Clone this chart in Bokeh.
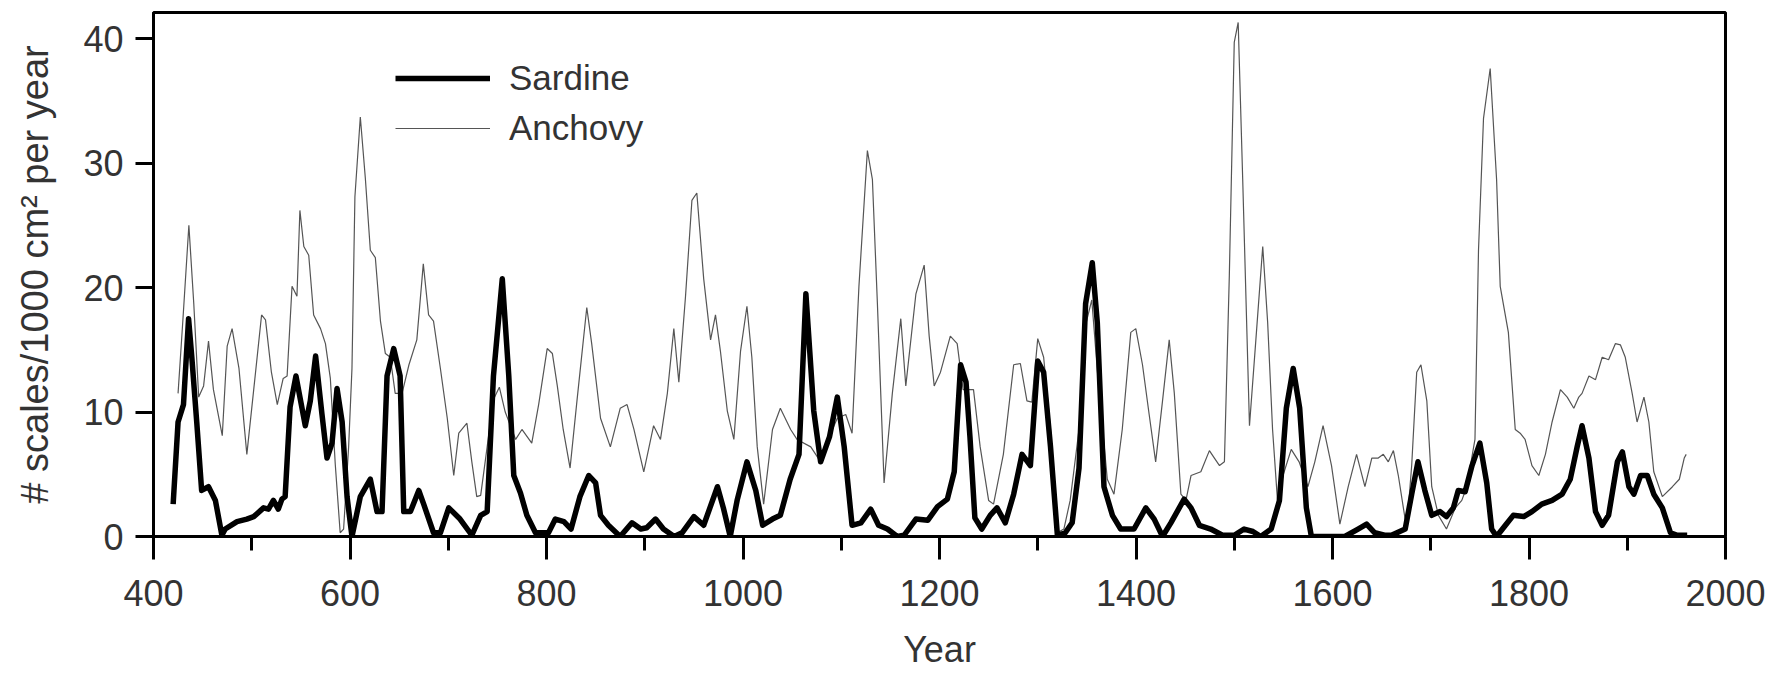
from bokeh.plotting import figure
from bokeh.models import Range1d, Legend, LegendItem, FixedTicker, ColumnDataSource
from bokeh.embed import file_html
from bokeh.resources import INLINE

# ---- data ----
sardine_year = [420, 425, 430.5, 435.7, 439, 444, 449, 456, 463, 469.6, 473, 485, 495, 502, 512, 517, 522, 527,
                530.7, 534, 539, 545, 554.5, 559.6, 565, 571.5, 576.6, 581.7, 586.8, 592, 597, 602, 606, 610.5,
                620.7, 627.5, 632.6, 637.7, 644.5, 651, 654.7, 661.5, 670, 675, 685, 692, 700.5, 712, 724, 733,
                739.6, 746, 755, 761.6, 766.7, 773.5, 780, 788.8, 802, 809, 817.7, 825, 834, 843, 850, 855, 863,
                875, 887, 896, 902, 911, 919, 930, 938, 950, 960, 974, 980, 987, 994, 1004, 1013, 1020, 1030,
                1038, 1048, 1057, 1064, 1072, 1079, 1088, 1096, 1103, 1111, 1120, 1130, 1138, 1147, 1157, 1164,
                1176, 1188, 1198, 1208, 1215, 1221.5, 1227, 1231, 1236, 1243, 1251.6, 1258.5, 1267, 1275.5, 1284,
                1292.5, 1300, 1306, 1313, 1320, 1328, 1335, 1342, 1348.7, 1355.5, 1360.6, 1367.4, 1376, 1384.4,
                1398, 1410, 1418.5, 1427, 1435.5, 1449, 1456, 1464.5, 1476, 1488, 1500, 1510, 1519, 1527, 1537.6,
                1546, 1553, 1560, 1566.6, 1573.4, 1578.5, 1612.6, 1626, 1634.7, 1643, 1653, 1660, 1674, 1680.6,
                1687, 1694, 1701, 1709.5, 1716, 1723, 1728, 1735, 1742, 1750, 1757, 1762, 1767, 1776, 1784,
                1794.6, 1803, 1813, 1823.5, 1833.7, 1842, 1849, 1854, 1861, 1867.7, 1874.5, 1881, 1890, 1895,
                1901.7, 1906.8, 1913.6, 1920.4, 1927, 1935.7, 1944, 1951, 1961]
sardine_val = [2.6, 9.2, 10.6, 17.5, 14.4, 9.2, 3.7, 4.0, 2.9, 0.1, 0.6, 1.2, 1.4, 1.6, 2.3, 2.2, 2.9, 2.2,
               3.0, 3.2, 10.4, 12.9, 8.9, 10.9, 14.5, 9.8, 6.3, 7.5, 11.9, 9.2, 3.2, 0.0, 1.5, 3.2,
               4.6, 2.0, 2.0, 12.9, 15.1, 12.9, 2.0, 2.0, 3.7, 2.6, 0.3, 0.3, 2.3, 1.4, 0.1, 1.7,
               2.0, 12.9, 20.7, 12.9, 4.9, 3.5, 1.7, 0.3, 0.3, 1.4, 1.2, 0.6, 3.2, 4.9, 4.3, 1.7, 0.9,
               0.0, 1.1, 0.6, 0.7, 1.4, 0.6, 0.0, 0.3, 1.6, 0.9, 4.0, 2.3, 0.0, 2.9, 6.0, 3.7, 0.9, 1.4,
               1.7, 4.6, 6.6, 19.5, 10.1, 6.0, 8.0, 11.2, 7.2, 0.9, 1.1, 2.2, 0.9, 0.6, 0.0, 0.1,
               1.4, 1.3, 2.4, 3.0, 5.2, 13.8, 12.4, 8.0, 1.5, 0.6, 1.7, 2.3, 1.1, 3.4, 6.6,
               5.7, 14.1, 13.2, 7.2, 0.1, 0.3, 1.1, 5.5, 18.7, 22.0, 17.2, 4.0, 1.7, 0.6,
               0.6, 2.3, 1.4, 0.0, 1.1, 3.0, 2.3, 0.9, 0.6, 0.1, 0.1, 0.6, 0.4, 0.0, 0.6,
               2.9, 10.3, 13.5, 10.3, 2.3, 0.0, 0.0, 0.6, 1.0, 0.3, 0.1, 0.1, 0.6, 3.4,
               6.0, 3.7, 1.7, 2.0, 1.6, 2.3, 3.7, 3.6, 5.7, 7.5, 4.3, 0.6, 0.0, 0.9, 1.7,
               1.6, 2.0, 2.6, 2.9, 3.4, 4.6, 7.2, 8.9, 6.3, 2.0, 0.9, 1.7, 6.0, 6.8,
               4.0, 3.4, 4.9, 4.9, 3.4, 2.3, 0.3, 0.1, 0.1]

anchovy_year = [425, 430, 436, 441, 446, 451, 456, 461, 470, 475, 480, 487, 495, 502, 510, 514, 520, 526, 532,
                536, 541, 546, 549, 553, 558, 563, 570, 575, 580, 585, 590, 593.5, 598.6, 602, 605, 610.5,
                615.6, 620.7, 625.8, 631, 636, 641, 646, 653, 660, 668, 674.6, 680, 685, 692, 699, 705.6,
                710.7, 719, 724, 729, 733, 739.6, 746, 752, 758, 768.6, 775, 785, 792, 800.7, 806, 811, 817,
                824, 831, 841, 846, 855, 865, 875, 882, 889, 899, 909, 916, 923, 929.6, 934.7, 941.5, 948, 953,
                960, 967, 972, 977, 984, 990.7, 997.5, 1004, 1009, 1014.5, 1021, 1030, 1038, 1048.5, 1055,
                1069, 1079, 1087.6, 1096, 1104.6, 1111, 1118, 1126.6, 1131.7, 1136.8, 1143.6, 1152, 1160.6,
                1165.7, 1176, 1184.4, 1189.5, 1194.6, 1201, 1211, 1218, 1224, 1234.6, 1241.4, 1250, 1255,
                1265, 1275.5, 1282.3, 1289, 1294, 1300, 1306, 1313, 1320, 1326.6, 1333, 1342, 1348.7, 1355,
                1362, 1370.8, 1377.6, 1386, 1394.7, 1399.8, 1406.6, 1413.4, 1420, 1427, 1433.8, 1439, 1445.7,
                1450.8, 1456, 1466, 1474.7, 1479.8, 1485, 1490, 1495, 1500, 1504, 1508.6, 1515.5, 1522, 1529,
                1534, 1539, 1544, 1550, 1558, 1566, 1575, 1582, 1590.4, 1599, 1607.5, 1616, 1624.5, 1633,
                1640, 1646.6, 1651.7, 1656.8, 1662, 1667, 1675.5, 1680.6, 1685.7, 1690, 1696, 1701, 1707.8,
                1716, 1725, 1731.6, 1736.7, 1745, 1748.6, 1753.7, 1760.5, 1767, 1770.7, 1779, 1786, 1791,
                1796, 1803, 1810, 1816.7, 1823.5, 1832, 1838.9, 1845.6, 1850.7, 1854, 1861, 1867.7, 1874.5,
                1881, 1888, 1893, 1898, 1905, 1910, 1917, 1922, 1927, 1935.7, 1946, 1953, 1958, 1960]
anchovy_val = [11.5, 17.5, 25.0, 18.7, 11.2, 12.1, 15.7, 11.8, 8.1, 15.3, 16.7, 13.5, 6.6, 11.8, 17.8, 17.4, 13.2, 10.6, 12.7,
               12.9, 20.1, 19.3, 26.2, 23.3, 22.6, 17.8, 16.7, 15.5, 12.7, 5.8, 0.3, 0.6, 7.2, 13.5, 27.3, 33.7,
               28.8, 23.0, 22.4, 17.3, 14.7, 14.4, 11.5, 11.5, 13.8, 15.8, 21.9, 17.8, 17.3, 13.5, 9.5, 4.9,
               8.3, 9.1, 6.0, 3.2, 3.3, 7.2, 11.0, 12.0, 10.0, 7.8, 8.6, 7.5, 10.6, 15.1, 14.7, 12.1, 8.6,
               5.5, 10.9, 18.4, 15.5, 9.5, 7.2, 10.3, 10.6, 8.6, 5.2, 8.9, 7.8, 11.5, 16.7, 12.4, 19.3, 27.0, 27.6,
               20.7, 15.8, 17.8, 14.9, 10.1, 7.8, 14.9, 18.5, 14.4, 7.2, 2.6, 8.6, 10.3, 8.6, 7.8,
               7.2, 6.0, 8.0, 9.5, 9.8, 8.3, 20.1, 31.0, 28.7, 18.7, 4.3, 11.5, 17.5,
               12.1, 19.5, 21.8, 16.1, 12.1, 13.2, 16.1, 15.5, 11.8, 11.8, 7.2, 2.9, 2.6,
               6.6, 13.8, 13.9, 10.9, 10.8, 15.9, 14.4, 8.6, 0.3, 0.6, 2.9, 8.6, 17.0, 19.0,
               12.0, 4.6, 3.4, 8.6, 16.4, 16.7, 13.8, 9.8, 6.0, 10.9, 15.8, 11.5, 3.4,
               2.9, 4.9, 5.2, 6.9, 6.3, 5.7, 6.0, 21.0, 39.7, 41.3, 28.7, 8.9, 15.8, 23.3,
               17.2, 8.6, 2.9, 5.0, 7.0, 6.0, 4.0, 6.0, 8.9, 5.7, 1.0, 4.0, 6.6, 4.0,
               6.3, 6.3, 6.6, 6.0, 6.9, 4.9, 0.6, 5.7, 13.2, 13.8, 10.9, 4.0, 1.7,
               0.6, 2.3, 2.9, 4.0, 7.8, 23.0, 33.6, 37.6, 28.7, 20.1, 16.4, 8.6, 8.3,
               7.8, 5.7, 4.9, 6.6, 9.2, 11.8, 11.2, 10.3, 11.2, 11.5, 12.9, 12.6, 14.4,
               14.2, 15.5, 15.4, 14.4, 11.5, 9.2, 11.2, 9.2, 5.2, 3.2, 4.0, 4.6, 6.3, 6.6]

x_ticks = [400, 600, 800, 1000, 1200, 1400, 1600, 1800, 2000]
x_minor = [500, 700, 900, 1100, 1300, 1500, 1700, 1900]
y_ticks = [0, 10, 20, 30, 40]

FONT = "Liberation Sans"
TXT = "#333333"

p = figure(width=1778, height=672, output_backend="svg", toolbar_location=None,
           x_range=Range1d(400, 2000), y_range=Range1d(0, 42.1),
           min_border_left=153, min_border_right=53, min_border_top=12, min_border_bottom=135)

p.xgrid.visible = False
p.ygrid.visible = False
p.outline_line_color = "black"
p.outline_line_width = 3
p.background_fill_color = "white"
p.border_fill_color = "white"

src_s = ColumnDataSource(dict(x=sardine_year, y=sardine_val))
src_a = ColumnDataSource(dict(x=anchovy_year, y=anchovy_val))
r_a = p.line("x", "y", source=src_a, line_color="#555555", line_width=1.2)
r_s = p.line("x", "y", source=src_s, line_color="black", line_width=5.5, line_join="round")

xa = p.xaxis[0]
xa.ticker = FixedTicker(ticks=x_ticks, minor_ticks=x_minor)
xa.axis_line_width = 2.5
xa.major_tick_in = 0
xa.major_tick_out = 23
xa.minor_tick_in = 0
xa.minor_tick_out = 14
xa.major_tick_line_width = 3
xa.minor_tick_line_width = 3
xa.major_label_standoff = 20
xa.major_label_text_font = FONT
xa.major_label_text_font_size = "36px"
xa.major_label_text_color = TXT
xa.axis_label = "Year"
xa.axis_label_text_font = FONT
xa.axis_label_text_font_size = "36px"
xa.axis_label_text_font_style = "normal"
xa.axis_label_text_color = TXT
xa.axis_label_standoff = 20

ya = p.yaxis[0]
ya.ticker = FixedTicker(ticks=y_ticks, minor_ticks=[])
ya.axis_line_width = 2.5
ya.major_tick_in = 0
ya.major_tick_out = 18
ya.major_tick_line_width = 3
ya.major_label_standoff = 12
ya.major_label_text_font = FONT
ya.major_label_text_font_size = "36px"
ya.major_label_text_color = TXT
ya.axis_label = "# scales/1000 cm² per year"
ya.axis_label_text_font = FONT
ya.axis_label_text_font_size = "38px"
ya.axis_label_text_font_style = "normal"
ya.axis_label_text_color = TXT
ya.axis_label_standoff = 24

legend = Legend(items=[LegendItem(label="Sardine", renderers=[r_s]),
                       LegendItem(label="Anchovy", renderers=[r_a])],
                location=(242, 388), glyph_width=95, glyph_height=40, label_height=40,
                spacing=10, padding=0, margin=0, border_line_color=None,
                background_fill_alpha=0, label_standoff=19,
                label_text_font=FONT, label_text_font_size="35px", label_text_color=TXT)
p.add_layout(legend)

open("out.html", "w").write(file_html(p, INLINE))
